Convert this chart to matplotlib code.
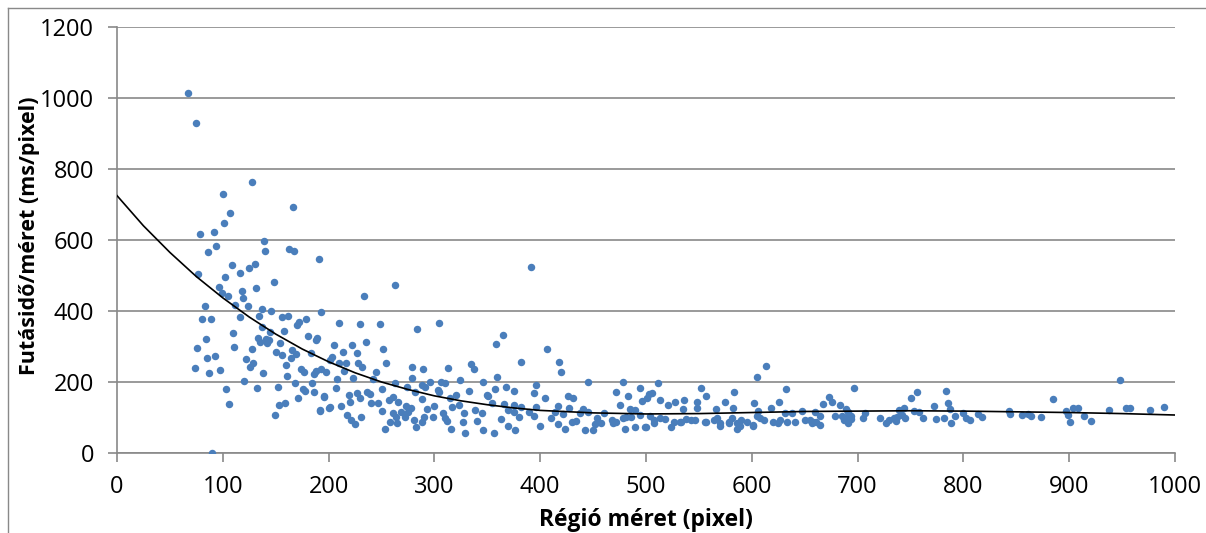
import numpy as np
import matplotlib.pyplot as plt
from matplotlib.lines import Line2D

# scatter points (region size in pixel, runtime per pixel in ms)
pts = [
    (67, 1013), (75, 929), (128, 764), (100, 730), (166, 692), (107, 675), (101, 649), (78, 617),
    (92, 622), (139, 598), (86, 565), (94, 583), (140, 568), (163, 575), (167, 569), (191, 546),
    (77, 505), (109, 530), (116, 506), (102, 495), (125, 522), (130, 532), (148, 481), (131, 465),
    (96, 468), (99, 450), (105, 443), (118, 455), (119, 436),
    (83, 414), (112, 417), (124, 415), (80, 377), (89, 377), (116, 384), (137, 406), (146, 400),
    (134, 386), (156, 384), (162, 386), (193, 398), (179, 377), (172, 370), (170, 361), (110, 339),
    (137, 356), (145, 340), (158, 344), (181, 330), (188, 318), (189, 323), (84, 321), (133, 325),
    (141, 321), (144, 318), (135, 312), (142, 309), (154, 309), (76, 297), (111, 299), (128, 292),
    (150, 285), (156, 276), (165, 290), (169, 278), (183, 283), (85, 267), (93, 272), (122, 265),
    (164, 268), (129, 254), (126, 241), (160, 247), (74, 239), (87, 226), (97, 234), (138, 226),
    (161, 218), (174, 237), (177, 227), (186, 222), (188, 231), (193, 237), (120, 204), (168, 196),
    (184, 198), (103, 181), (132, 182), (152, 186), (176, 181), (178, 176), (186, 172), (196, 161),
    (171, 154), (106, 139), (153, 135), (159, 140), (200, 128), (192, 119), (149, 108), (90, 0),
    (263, 474), (233, 442), (210, 365), (230, 362), (249, 362), (284, 350), (304, 367), (205, 303),
    (222, 305), (235, 312), (214, 284), (227, 282), (251, 292), (203, 271), (201, 262), (210, 254),
    (216, 254), (228, 253), (232, 243), (254, 253), (198, 229), (215, 231), (245, 227), (279, 243),
    (289, 236), (313, 240), (335, 251), (337, 237), (208, 208), (223, 212), (242, 208), (279, 210),
    (263, 196), (274, 185), (288, 192), (291, 187), (296, 199), (306, 201), (310, 196), (324, 206),
    (346, 201), (207, 182), (236, 173), (239, 166), (250, 180), (303, 177), (196, 159), (219, 163),
    (227, 170), (230, 156), (257, 149), (261, 157), (282, 173), (288, 151), (304, 171), (315, 156),
    (320, 162), (333, 174), (350, 162), (220, 143), (240, 142), (247, 140), (266, 145), (273, 132),
    (278, 128), (293, 123), (300, 132), (317, 130), (323, 134), (192, 121), (201, 129), (212, 133),
    (250, 119), (261, 114), (268, 116), (275, 116), (308, 114), (328, 112), (338, 121), (345, 112),
    (217, 107), (231, 102), (264, 102), (272, 101), (290, 102), (299, 102), (310, 98), (221, 93),
    (225, 82), (258, 86), (265, 84), (281, 93), (288, 86), (312, 91), (327, 86), (340, 91),
    (253, 69), (283, 74), (316, 68), (329, 55), (346, 65),
    (391, 525), (365, 331), (358, 307), (406, 293), (382, 257), (418, 257), (420, 229), (359, 215),
    (445, 199), (478, 199), (357, 179), (368, 185), (375, 175), (396, 191), (394, 168), (405, 156),
    (426, 160), (431, 154), (472, 173), (483, 161), (494, 184), (496, 146), (351, 160), (354, 140),
    (366, 138), (375, 135), (382, 130), (396, 130), (417, 133), (427, 128), (440, 123), (475, 135),
    (485, 123), (490, 121), (370, 121), (375, 116), (380, 102), (389, 116), (394, 104), (414, 115),
    (410, 98), (422, 110), (434, 90), (438, 112), (445, 115), (454, 98), (460, 112), (468, 93),
    (478, 99), (481, 102), (486, 102), (363, 95), (356, 55), (370, 76), (376, 65), (400, 76),
    (417, 81), (423, 67), (430, 88), (442, 65), (452, 82), (457, 85), (450, 65), (469, 84),
    (472, 88), (480, 68), (490, 74), (500, 74), (503, 166),
    (613, 245), (605, 215), (511, 196), (506, 168), (501, 154), (552, 182), (632, 179), (557, 161),
    (583, 171), (513, 149), (521, 135), (527, 145), (536, 149), (548, 145), (575, 143), (602, 140),
    (626, 143), (535, 123), (548, 126), (566, 123), (582, 128), (606, 118), (618, 128), (631, 114),
    (638, 114), (647, 118), (494, 107), (504, 104), (508, 93), (513, 98), (518, 96), (526, 88),
    (532, 88), (538, 96), (546, 93), (557, 88), (564, 93), (567, 98), (570, 84), (578, 88),
    (581, 98), (586, 84), (590, 93), (595, 88), (601, 79), (605, 104), (608, 98), (612, 93),
    (620, 88), (627, 93), (633, 86), (641, 88), (650, 93), (657, 84), (661, 88), (499, 74),
    (508, 84), (524, 72), (533, 86), (543, 93), (556, 86), (570, 77), (578, 84), (586, 67),
    (589, 77), (601, 77), (625, 84),
    (697, 182), (673, 159), (676, 143), (683, 135), (667, 137), (756, 171), (750, 156), (784, 176),
    (785, 140), (772, 133), (787, 124), (744, 126), (739, 121), (753, 119), (758, 116), (660, 116),
    (689, 123), (691, 116), (707, 114), (679, 104), (685, 104), (690, 101), (694, 104), (664, 104),
    (655, 93), (658, 88), (664, 79), (687, 93), (691, 84), (694, 96), (705, 98), (721, 100),
    (727, 85), (730, 93), (734, 98), (737, 102), (745, 100), (742, 107), (736, 91), (762, 100),
    (774, 97), (782, 100), (788, 84), (792, 104), (800, 112), (802, 100), (806, 93), (814, 110),
    (818, 101),
    (948, 206), (885, 152), (843, 119), (844, 110), (855, 107), (861, 110), (864, 104), (873, 102),
    (897, 119), (904, 126), (908, 128), (899, 107), (901, 86), (914, 105), (921, 89), (938, 121),
    (954, 126), (957, 126), (976, 121), (990, 130),
]
region_size = [p[0] for p in pts]
time_per_px = [p[1] for p in pts]

# trend line
trend_x = [0, 25, 50, 75, 100, 125, 150, 175, 200, 225, 250, 275, 300, 325, 350, 375, 400,
           450, 500, 550, 600, 650, 700, 750, 800, 850, 900, 950, 1000]
trend_y = [725, 640, 565, 497, 437, 383, 335, 293, 257, 226, 200, 179, 161, 147, 136, 127, 120,
           113, 110, 111, 114, 117, 118, 119, 118, 116, 114, 111, 107]

plt.rcParams['font.family'] = ['Open Sans', 'DejaVu Sans']

fig = plt.figure(figsize=(12.06, 5.33), dpi=100)
ax = fig.add_axes([117/1206, 1 - 453/533, (1175 - 117)/1206, (453 - 27)/533])

ax.scatter(region_size, time_per_px, s=29, color='#4a7ebb', zorder=3, linewidths=0)
ax.plot(trend_x, trend_y, color='black', lw=1.2, zorder=4)

ax.set_xlim(0, 1000)
ax.set_ylim(0, 1200)
ax.set_xticks(np.arange(0, 1001, 100))
ax.set_yticks(np.arange(0, 1201, 200))
ax.yaxis.grid(True, color='#898989', lw=1.2)
ax.set_axisbelow(True)
for s in ['top', 'right']:
    ax.spines[s].set_visible(False)
for s in ['left', 'bottom']:
    ax.spines[s].set_color('#898989')
    ax.spines[s].set_linewidth(1.2)
ax.tick_params(axis='both', colors='#898989', labelcolor='black', labelsize=17,
               length=6.5, width=1.2, direction='out')
ax.tick_params(axis='y', pad=10)
ax.tick_params(axis='x', pad=9)

ax.set_xlabel('Régió méret (pixel)', fontsize=16.5, fontweight='bold')
ax.xaxis.label.set_verticalalignment('center')
ax.xaxis.set_label_coords(0.5, -(520 - 453)/426)
ax.set_ylabel('Futásidő/méret (ms/pixel)', fontsize=15.5, fontweight='bold')
ax.yaxis.label.set_verticalalignment('center')
ax.yaxis.set_label_coords(-(117 - 30)/1058, (453 - 236)/426)

# chart frame
fig.add_artist(Line2D([8/1206, 8/1206], [0, 1 - 8/533], color='#898989', lw=1))
fig.add_artist(Line2D([8/1206, 1], [1 - 8/533, 1 - 8/533], color='#898989', lw=1))

fig.savefig('out.png', dpi=100)
